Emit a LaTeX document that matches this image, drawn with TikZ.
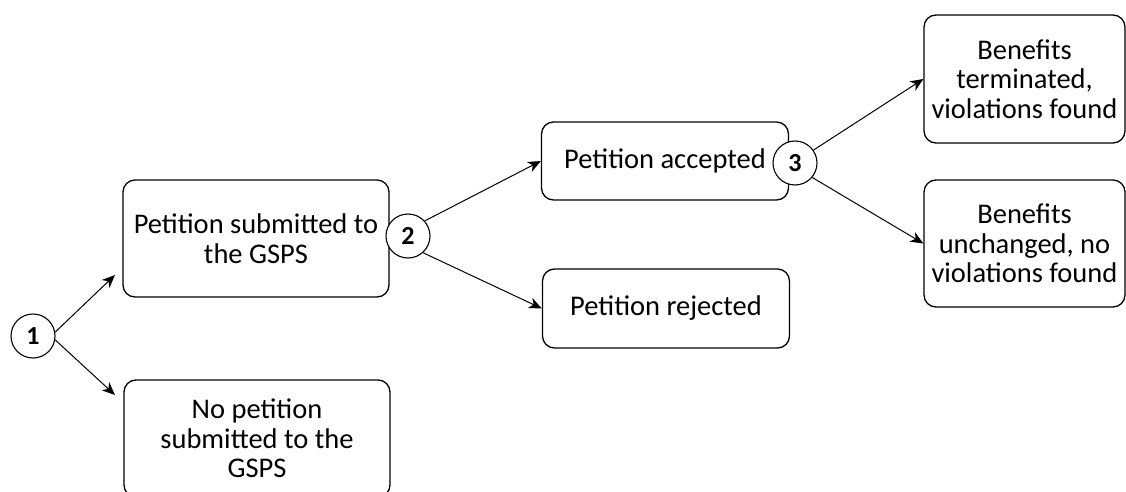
\documentclass[tikz,border=0pt]{standalone}
\usepackage{fontspec}
\setmainfont{Carlito}
\usetikzlibrary{arrows.meta}

\tikzset{
  outcome/.style={draw, rounded corners=12pt, line width=1.3pt, align=center,
    inner sep=0pt, font=\fontsize{28.5}{29.5}\selectfont},
  chance/.style={draw, circle, fill=white, line width=1.1pt, minimum size=44pt,
    inner sep=0pt, font=\fontsize{26}{26}\selectfont\bfseries},
  branch/.style={-{Stealth[length=13pt,width=11pt,inset=4pt]}, line width=1pt}
}

\begin{document}
\begin{tikzpicture}[x=1pt,y=-1pt]
  \useasboundingbox (0,0) rectangle (1126,492);

  % outcomes
  \node[outcome, minimum width=266pt, minimum height=117pt] (submitted) at (256,238.5) {Petition submitted to\\the GSPS};
  \node[outcome, minimum width=266pt, minimum height=117pt] (nopetition) at (257,438.5) {No petition\\submitted to the\\GSPS};
  \node[outcome, minimum width=247pt, minimum height=78pt] (accepted) at (665,161) {Petition accepted};
  \node[outcome, minimum width=247pt, minimum height=79pt] (rejected) at (666,308.5) {Petition rejected};
  \node[outcome, minimum width=201pt, minimum height=128pt] (terminated) at (1024.5,79) {Benefits\\terminated,\\violations found};
  \node[outcome, minimum width=201pt, minimum height=127pt] (unchanged) at (1024.5,243.5) {Benefits\\unchanged, no\\violations found};

  % chance points
  \node[chance] (c1) at (33,336) {1};
  \node[chance] (c2) at (408,236) {2};
  \node[chance] (c3) at (795,163) {3};

  \coordinate (toSubmitted) at (115,275);
  \coordinate (toNopetition) at (115,395);

  \foreach \from/\to in {c1.10/toSubmitted, c1.-10/toNopetition,
                         c2.42/accepted.west, c2.-48/rejected.west,
                         c3.35/terminated.west, c3.-40/unchanged.west}
    \draw[branch] (\from) -- (\to);
\end{tikzpicture}
\end{document}
